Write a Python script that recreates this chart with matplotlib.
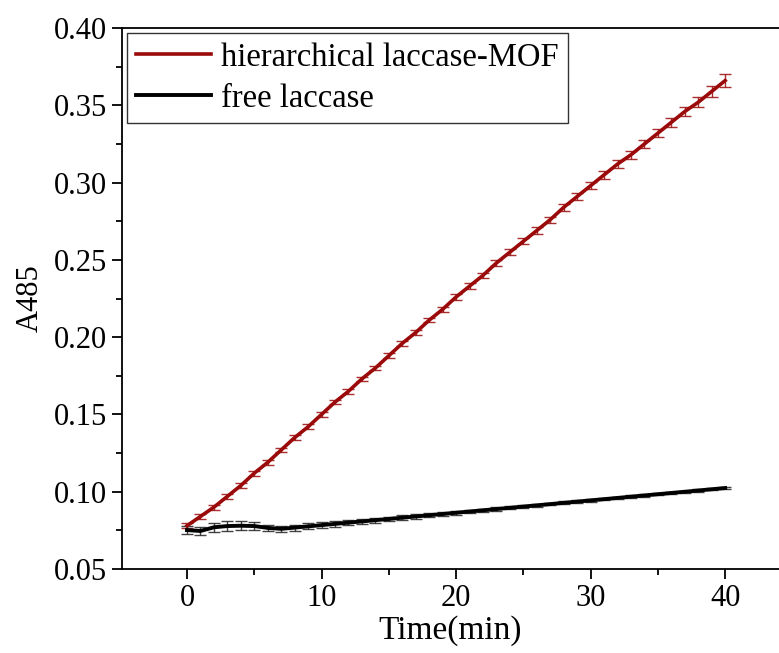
import matplotlib
matplotlib.use("Agg")
import matplotlib.pyplot as plt
from matplotlib.ticker import MultipleLocator, FormatStrFormatter

# time points (min)
time = list(range(0, 41))

# hierarchical laccase-MOF
mof = [0.078, 0.084, 0.090, 0.097, 0.104, 0.112, 0.119, 0.127, 0.135, 0.142,
       0.150, 0.158, 0.165, 0.173, 0.180, 0.188, 0.196, 0.203, 0.211, 0.218,
       0.226, 0.233, 0.240, 0.248, 0.255, 0.262, 0.269, 0.276, 0.284, 0.291,
       0.298, 0.305, 0.312, 0.318, 0.325, 0.332, 0.339, 0.346, 0.352, 0.359,
       0.366]
mof_err = [0.0015, 0.0015, 0.0015, 0.0015, 0.0015, 0.0015, 0.0015, 0.0015, 0.0015, 0.0015,
           0.0015, 0.0015, 0.0015, 0.0015, 0.0015, 0.0015, 0.0015, 0.0015, 0.0015, 0.0015,
           0.0018, 0.0018, 0.0018, 0.0018, 0.0020, 0.0020, 0.0020, 0.0020, 0.0022, 0.0022,
           0.0022, 0.0024, 0.0024, 0.0026, 0.0026, 0.0028, 0.0030, 0.0030, 0.0032, 0.0034,
           0.0040]

# free laccase
free = [0.0752, 0.0746, 0.0770, 0.0778, 0.0780, 0.0778, 0.0766, 0.0760, 0.0768, 0.0776,
        0.0784, 0.0792, 0.0800, 0.0808, 0.0816, 0.0824, 0.0832, 0.0840, 0.0848, 0.0856,
        0.0864, 0.0872, 0.0880, 0.0888, 0.0896, 0.0904, 0.0912, 0.0920, 0.0928, 0.0936,
        0.0944, 0.0952, 0.0960, 0.0968, 0.0976, 0.0984, 0.0992, 0.1000, 0.1008, 0.1016,
        0.1024]
free_err = [0.0025, 0.0025, 0.0030, 0.0030, 0.0030, 0.0025, 0.0020, 0.0020, 0.0020, 0.0020,
            0.0018, 0.0018, 0.0018, 0.0016, 0.0016, 0.0015, 0.0015, 0.0014, 0.0014, 0.0013,
            0.0012, 0.0012, 0.0011, 0.0011, 0.0010, 0.0010, 0.0010, 0.0009, 0.0009, 0.0009,
            0.0008, 0.0008, 0.0008, 0.0008, 0.0007, 0.0007, 0.0007, 0.0007, 0.0007, 0.0007,
            0.0007]

plt.rcParams['font.family'] = ['Liberation Serif', 'DejaVu Serif']

fig = plt.figure(figsize=(7.79, 6.53), dpi=100)
ax = fig.add_axes([0.1566, 0.1286, 0.8434, 0.8285])

red = '#9b0a0a'
ax.errorbar(time, mof, yerr=mof_err, fmt='none', ecolor=red, alpha=0.85,
            elinewidth=1.0, capsize=4, capthick=1.0, zorder=2)
ax.plot(time, mof, color=red, lw=2.6, label='hierarchical laccase-MOF', zorder=3)
ax.errorbar(time, free, yerr=free_err, fmt='none', ecolor='#222222', alpha=0.85,
            elinewidth=1.0, capsize=4, capthick=1.0, zorder=2)
ax.plot(time, free, color='black', lw=2.8, label='free laccase', zorder=3)

ax.set_xlim(-4.83, 44.0)
ax.set_ylim(0.05, 0.40)
ax.xaxis.set_major_locator(MultipleLocator(10))
ax.xaxis.set_minor_locator(MultipleLocator(5))
ax.yaxis.set_major_locator(MultipleLocator(0.05))
ax.yaxis.set_minor_locator(MultipleLocator(0.025))
ax.yaxis.set_major_formatter(FormatStrFormatter('%.2f'))

ax.spines['right'].set_visible(False)
for s in ['left', 'bottom', 'top']:
    ax.spines[s].set_linewidth(1.3)
ax.tick_params(which='major', direction='out', length=7, width=1.3, labelsize=22,
               top=False, right=False)
ax.tick_params(which='minor', direction='out', length=4, width=1.3, top=False, right=False)

ax.set_xlabel('Time(min)', fontsize=24, labelpad=2)
ax.set_ylabel('A485', fontsize=22, labelpad=7)

leg = ax.legend(loc='upper left', fontsize=23.5, frameon=True, fancybox=False,
                edgecolor='black', handlelength=2.3, handletextpad=0.3,
                borderpad=0.28, labelspacing=0.33, borderaxespad=0.15)
leg.get_frame().set_linewidth(1.0)

fig.savefig('out.png', dpi=100)
